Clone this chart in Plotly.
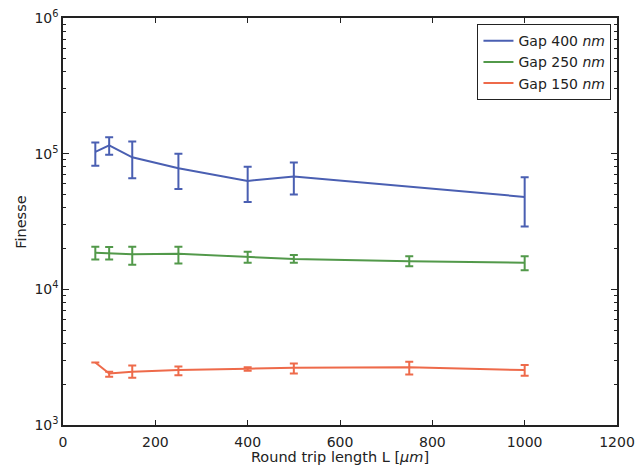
import plotly.graph_objects as go

# Round trip length L [um]
L_400 = [70, 100, 150, 250, 400, 500, 1000]
L_250 = [70, 100, 150, 250, 400, 500, 750, 1000]
L_150 = [70, 100, 150, 250, 400, 500, 750, 1000]

# Finesse values and asymmetric error bounds (upper / lower)
F_400 = [103000, 115000, 94000, 78000, 63000, 68000, 48000]
F_400_hi = [121000, 132000, 123000, 100000, 80000, 86000, 67000]
F_400_lo = [81500, 98000, 66000, 55000, 44000, 50000, 29000]

F_250 = [18600, 18500, 18100, 18300, 17400, 16700, 16100, 15700]
F_250_hi = [20600, 20500, 20600, 20600, 18900, 17900, 17500, 17500]
F_250_lo = [16600, 16600, 15200, 15500, 15700, 15700, 14800, 13800]

F_150 = [2890, 2400, 2470, 2540, 2600, 2640, 2660, 2540]
F_150_hi = [2890, 2470, 2740, 2700, 2660, 2840, 2930, 2770]
F_150_lo = [2890, 2270, 2230, 2330, 2510, 2400, 2360, 2310]

x_ticks = [0, 200, 400, 600, 800, 1000, 1200]
y_ticks = [1e3, 1e4, 1e5, 1e6]
y_ticktext = ["10<sup>3</sup>", "10<sup>4</sup>", "10<sup>5</sup>", "10<sup>6</sup>"]
y_minor = [m * 10 ** e for e in (3, 4, 5) for m in range(2, 10)]

series = [
    ("Gap 400 <i>nm</i>", L_400, F_400, F_400_hi, F_400_lo, "#4a5fb2"),
    ("Gap 250 <i>nm</i>", L_250, F_250, F_250_hi, F_250_lo, "#52994a"),
    ("Gap 150 <i>nm</i>", L_150, F_150, F_150_hi, F_150_lo, "#ee6a4a"),
]

fig = go.Figure()
for name, xs, ys, hi, lo, color in series:
    fig.add_trace(go.Scatter(
        x=xs, y=ys, name=name, mode="lines",
        line=dict(color=color, width=2),
        error_y=dict(
            type="data", symmetric=False,
            array=[h - v for h, v in zip(hi, ys)],
            arrayminus=[v - l for v, l in zip(ys, lo)],
            color=color, thickness=2, width=4,
        ),
    ))

ink = "#222222"
font = dict(family="DejaVu Sans, Open Sans, sans-serif", size=14, color=ink)

fig.update_layout(
    width=638, height=465,
    margin=dict(l=63, r=21, t=18, b=40),
    paper_bgcolor="white", plot_bgcolor="white",
    font=font,
    showlegend=True,
    legend=dict(
        x=0.99, y=0.985, xanchor="right", yanchor="top",
        bordercolor=ink, borderwidth=1, bgcolor="white",
        font=dict(family="DejaVu Sans, sans-serif", size=14, color=ink),
        tracegroupgap=0, itemwidth=30,
    ),
)

fig.update_xaxes(
    range=[0, 1200], tickvals=x_ticks, ticktext=[str(v) for v in x_ticks],
    ticks="inside", ticklen=5, tickcolor=ink, tickwidth=1,
    tickfont=dict(size=14, color=ink), ticklabelstandoff=3,
    showline=True, linecolor=ink, linewidth=1.5, mirror="allticks",
    showgrid=False, zeroline=False, automargin=False,
    title=dict(text="Round trip length L [<i>μm</i>]",
               font=dict(size=14.5, color=ink)),
)

fig.update_yaxes(
    type="log", range=[3, 6], tickvals=y_ticks, ticktext=y_ticktext,
    ticks="inside", ticklen=6, tickcolor=ink, tickwidth=1,
    tickfont=dict(size=14, color=ink),
    minor=dict(tickvals=y_minor, ticks="inside", ticklen=3,
               tickcolor=ink, tickwidth=1, showgrid=False),
    showline=True, linecolor=ink, linewidth=1.5, mirror="allticks",
    showgrid=False, zeroline=False, automargin=False,
)

# y-axis title placed beside the tick labels
fig.add_annotation(
    text="Finesse", textangle=-90, showarrow=False,
    xref="paper", yref="paper", x=-0.077, y=0.5,
    xanchor="center", yanchor="middle",
    font=dict(size=14.5, color=ink),
)

fig.write_html("out.html")
